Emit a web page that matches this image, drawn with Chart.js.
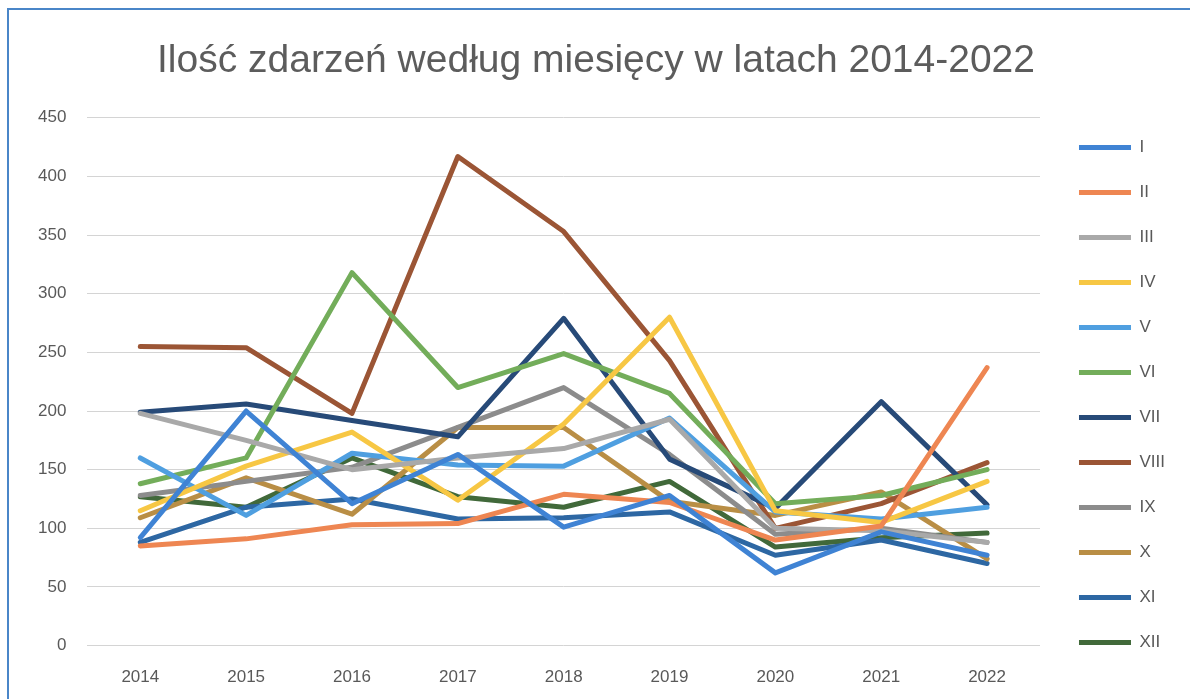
<!DOCTYPE html>
<html>
<head>
<meta charset="utf-8">
<script src="https://cdn.jsdelivr.net/npm/chart.js@4/dist/chart.umd.min.js"></script>
<style>
body{margin:0;background:#fff;overflow:hidden;}
.frame{position:absolute;left:7px;top:8px;width:1183px;height:700px;border-top:2px solid #4a86c8;border-left:2px solid #4a86c8;box-sizing:border-box;}
.box{position:absolute;left:0;top:0;width:1180px;height:692px;}
</style>
</head>
<body>
<div class="frame"><div class="box"><canvas id="chart"></canvas></div></div>
<script>
// lata i wartości
const years=['2014','2015','2016','2017','2018','2019','2020','2021','2022'];
const m01=[92,200,121,163,101,128,62,97,77];
const m02=[85,91,103,104,129,122,90,102,237];
const m03=[198,175,150,160,168,193,100,98,88];
const m04=[115,153,182,124,189,280,115,105,140];
const m05=[160,111,164,154,153,194,114,108,118];
const m06=[138,160,318,220,249,215,121,128,150];
const m07=[199,206,192,178,279,159,117,208,120];
const m08=[255,254,198,417,353,243,100,121,156];
const m09=[128,140,152,186,220,163,95,100,88];
const m10=[109,143,112,186,186,123,111,131,74];
const m11=[88,118,125,108,109,114,77,90,70];
const m12=[127,118,160,127,118,140,84,92,96];
const yTicks=[0,50,100,150,200,250,300,350,400,450];

const months=['I','II','III','IV','V','VI','VII','VIII','IX','X','XI','XII'];
const series=[m01,m02,m03,m04,m05,m06,m07,m08,m09,m10,m11,m12];
const colors=['#3f83d4','#ee8652','#a9a9a9','#f7c744','#4f9fe0','#73ad5a','#274a78','#9b5535','#8c8c8c','#b98e45','#2d67a3','#41693a'];

function makeSet(i){
    return {label:months[i], data:series[i], borderColor:colors[i], backgroundColor:colors[i],
        borderWidth:5, pointRadius:0, fill:false, tension:0, borderJoinStyle:'round', borderCapStyle:'round'};
}

new Chart(document.getElementById('chart'),{
    type:'line',
    data:{labels:years, datasets:series.map((s,i)=>makeSet(i))},
    options:{
        responsive:true, maintainAspectRatio:false, animation:false,
        layout:{padding:{left:8,right:14,top:0,bottom:0}},
        plugins:{
            title:{display:true, text:'Ilość zdarzeń według miesięcy w latach 2014-2022',
                color:'#5c5c5c', font:{family:'Liberation Sans',size:39,weight:'normal'}, padding:{top:28,bottom:33}},
            legend:{position:'right',
                title:{display:true, text:' ', font:{size:10}, padding:{top:33,bottom:33}},
                labels:{usePointStyle:true, pointStyle:'line', pointStyleWidth:52, boxWidth:52,
                color:'#595959', font:{family:'Liberation Sans',size:17}, padding:28}},
            tooltip:{enabled:false}
        },
        scales:{
            x:{offset:true, grid:{display:false}, border:{display:false},
                ticks:{color:'#595959', font:{family:'Liberation Sans',size:17}, padding:14}},
            y:{min:0, max:450, afterBuildTicks:ax=>{ax.ticks=yTicks.map(v=>({value:v}));},
                grid:{color:'#d4d4d4', drawTicks:false}, border:{display:false},
                ticks:{color:'#595959', font:{family:'Liberation Sans',size:17}, padding:21}},
            // pusty margines między wykresem a legendą
            gap:{position:'right', display:true, grid:{display:false}, border:{display:false},
                ticks:{display:false}, afterFit:s=>{s.width=11;}}
        }
    }
});
</script>
</body>
</html>
